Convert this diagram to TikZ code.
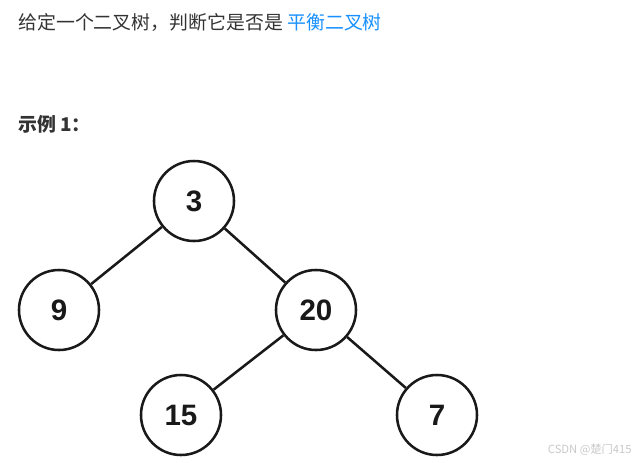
\documentclass[tikz,border=0pt]{standalone}
\usepackage{fontspec}
\setmainfont{Liberation Sans}
\newfontfamily\cjk{Noto Sans CJK SC}
\definecolor{textgray}{RGB}{51,51,51}
\definecolor{linkblue}{RGB}{24,144,255}
\definecolor{markgray}{RGB}{200,200,200}
\begin{document}
\begin{tikzpicture}[x=0.025cm,y=-0.025cm,
    treenode/.style={draw=black!90,line width=1.8pt,circle,minimum size=2cm,inner sep=0pt,
      font=\fontsize{21pt}{24pt}\selectfont\bfseries,text=black!90},
    edge/.style={draw=black!90,line width=1.8pt}]
            \useasboundingbox (0,0) rectangle (640,462);
            % Question text
            \node[anchor=west,inner sep=0pt,text=textgray] (question) at (18,22)
              {\fontsize{13.45pt}{16pt}\selectfont\cjk 给定一个二叉树，判断它是否是 \textcolor{linkblue}{平衡二叉树}};
            \node[anchor=west,inner sep=0pt,text=textgray] (example) at (18,124)
              {\fontsize{13.45pt}{16pt}\selectfont\cjk\bfseries 示例 1：};

            % Tree
            \node[treenode] (n3) at (194,201) {3};
            \node[treenode] (n9) at (59,310) {9};
            \node[treenode] (n20) at (316,310) {20};
            \node[treenode] (n15) at (181,415) {15};
            \node[treenode] (n7) at (437,415) {7};
            \draw[edge] (n3) -- (n9);
            \draw[edge] (n3) -- (n20);
            \draw[edge] (n20) -- (n15);
            \draw[edge] (n20) -- (n7);

            % Watermark
            \node[anchor=east,inner sep=0pt,text=markgray] (mark) at (632,450)
              {\fontsize{8pt}{9pt}\selectfont\cjk CSDN @楚门415};
        \end{tikzpicture}
\end{document}
